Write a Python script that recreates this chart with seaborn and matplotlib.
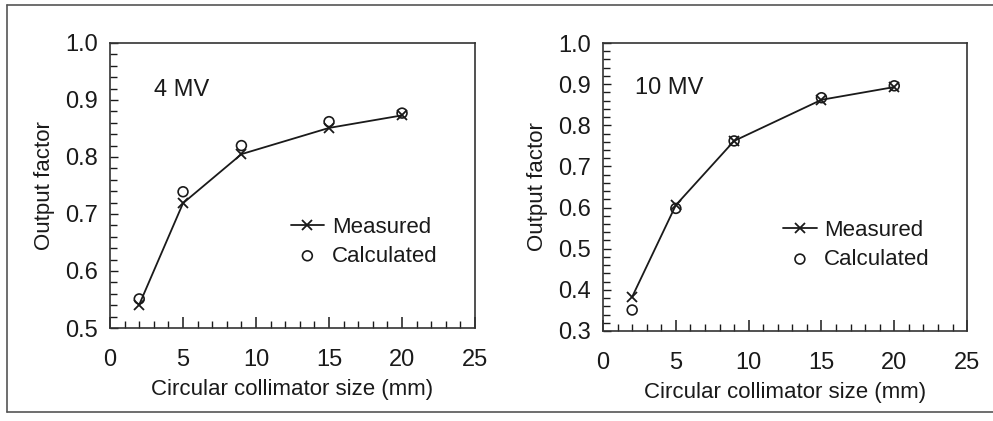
import matplotlib
matplotlib.use("Agg")
import matplotlib.pyplot as plt
import seaborn as sns
import pandas as pd
from matplotlib.lines import Line2D
from matplotlib.ticker import MultipleLocator

sns.set_theme(style="white")
plt.rcParams['font.family'] = ['Liberation Sans', 'DejaVu Sans']

sizes = [2, 5, 9, 15, 20]
meas_4mv = [0.541, 0.719, 0.805, 0.851, 0.873]
calc_4mv = [0.551, 0.739, 0.820, 0.862, 0.877]
meas_10mv = [0.383, 0.606, 0.762, 0.862, 0.893]
calc_10mv = [0.351, 0.598, 0.762, 0.867, 0.896]
labels = ["4 MV", "10 MV"]
ylims = [(0.5, 1.0), (0.3, 1.0)]

ink = "#1a1a1a"
fig = plt.figure(figsize=(9.93, 4.21), dpi=100)
axes = [fig.add_axes([0.1108, 0.2209, 0.3676, 0.677]),
        fig.add_axes([0.6073, 0.2138, 0.3666, 0.684])]

datasets = [(meas_4mv, calc_4mv), (meas_10mv, calc_10mv)]
text_pos = [(0.12, 0.835), (0.088, 0.844)]
leg_pos = [(0.495, 0.39), (0.495, 0.385)]

for ax, (m, c), lab, yl, tp, lp in zip(axes, datasets, labels, ylims, text_pos, leg_pos):
    df = pd.DataFrame({"size": sizes, "meas": m, "calc": c})
    sns.lineplot(data=df, x="size", y="meas", ax=ax, color=ink, lw=1.3,
                 marker="x", markersize=7.5, markeredgewidth=1.3,
                 markeredgecolor=ink, label="Measured")
    sns.scatterplot(data=df, x="size", y="calc", ax=ax, marker="o", s=50,
                    facecolors="none", edgecolor=ink, linewidth=1.2,
                    label="Calculated", zorder=3)
    ax.set_xlim(0, 25)
    ax.set_ylim(*yl)
    ax.xaxis.set_major_locator(MultipleLocator(5))
    ax.xaxis.set_minor_locator(MultipleLocator(1))
    ax.yaxis.set_major_locator(MultipleLocator(0.1))
    ax.yaxis.set_minor_locator(MultipleLocator(0.02))
    ax.yaxis.set_major_formatter(matplotlib.ticker.FormatStrFormatter('%.1f'))
    ax.tick_params(axis='both', which='both', direction='in', colors=ink,
                   labelsize=17, top=False, right=False, bottom=True, left=True)
    ax.tick_params(axis='x', which='major', length=8, width=1.1, pad=15)
    ax.tick_params(axis='x', which='minor', length=5, width=1.0)
    ax.tick_params(axis='y', which='major', length=6, width=1.0, pad=9)
    ax.tick_params(axis='y', which='minor', length=5, width=1.0)
    ax.tick_params(labelcolor=ink)
    for sp in ax.spines.values():
        sp.set_color("#333333")
        sp.set_linewidth(1.2)
    ax.set_xlabel("Circular collimator size (mm)", fontsize=16, color=ink, labelpad=6)
    ax.set_ylabel("Output factor", fontsize=16, color=ink, labelpad=7)
    ax.text(tp[0], tp[1], lab, transform=ax.transAxes, fontsize=17,
            color=ink, va="center", ha="left")
    ax.legend(loc="upper left", bbox_to_anchor=lp, frameon=False, fontsize=16,
              handlelength=1.5, handletextpad=0.35, labelspacing=0.35,
              borderpad=0, borderaxespad=0, labelcolor=ink)

# figure frame lines (top, bottom, left)
fc = "#555555"
fig.add_artist(Line2D([7/993, 1.0], [1 - 5/421, 1 - 5/421], transform=fig.transFigure, color=fc, lw=1.2))
fig.add_artist(Line2D([7/993, 1.0], [1 - 412/421, 1 - 412/421], transform=fig.transFigure, color=fc, lw=1.2))
fig.add_artist(Line2D([7/993, 7/993], [1 - 5/421, 1 - 412/421], transform=fig.transFigure, color=fc, lw=1.2))

fig.savefig("out.png", dpi=100)
